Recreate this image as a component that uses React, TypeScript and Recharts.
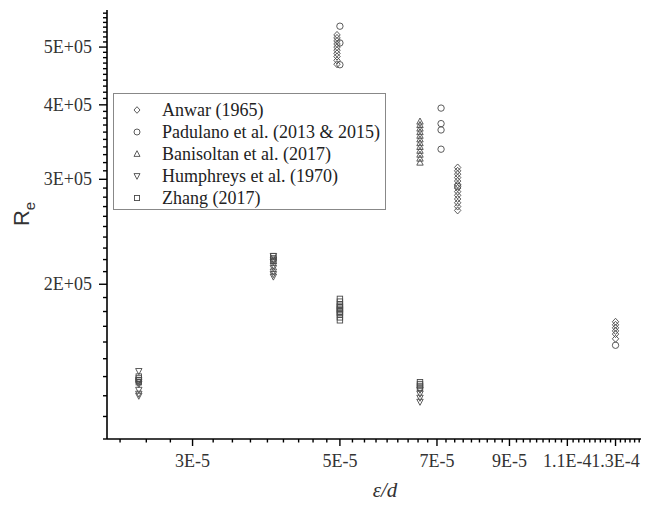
import React from "react";
import { ScatterChart, Scatter, XAxis, YAxis, Label } from "recharts";

// axis ticks
const X_MAJOR = [3e-5, 5e-5, 7e-5, 9e-5, 1.1e-4, 1.3e-4];
const X_LABELS = ["3E-5", "5E-5", "7E-5", "9E-5", "1.1E-4", "1.3E-4"];
const Y_MAJOR = [2e5, 3e5, 4e5, 5e5];
const Y_LABELS = ["2E+05", "3E+05", "4E+05", "5E+05"];
const X_DOMAIN = [2.23e-5, 1.42e-4];
const Y_DOMAIN = [1.1e5, 5.77e5];

// data: [eps/d, Re]
const anwar: [number, number][] = [
  [4.95e-5, 5.24e5], [4.95e-5, 5.18e5], [4.95e-5, 5.12e5], [4.95e-5, 5.06e5],
  [4.95e-5, 5.0e5], [4.95e-5, 4.94e5], [4.95e-5, 4.88e5], [4.95e-5, 4.82e5],
  [4.95e-5, 4.75e5], [4.95e-5, 4.68e5],
  [7.52e-5, 3.14e5], [7.52e-5, 3.1e5], [7.52e-5, 3.06e5], [7.52e-5, 3.02e5],
  [7.52e-5, 2.98e5], [7.52e-5, 2.94e5], [7.52e-5, 2.9e5], [7.52e-5, 2.86e5],
  [7.52e-5, 2.82e5], [7.52e-5, 2.78e5], [7.52e-5, 2.74e5], [7.52e-5, 2.7e5],
  [7.52e-5, 2.66e5],
  [1.3e-4, 1.73e5], [1.3e-4, 1.71e5], [1.3e-4, 1.69e5], [1.3e-4, 1.67e5],
  [1.3e-4, 1.65e5], [1.3e-4, 1.62e5],
];
const padulano: [number, number][] = [
  [5.0e-5, 5.42e5], [5.0e-5, 5.08e5], [5.0e-5, 4.67e5],
  [7.1e-5, 3.95e5], [7.1e-5, 3.72e5], [7.1e-5, 3.63e5], [7.1e-5, 3.37e5],
  [7.52e-5, 2.92e5], [1.3e-4, 1.58e5],
];
const banisoltan: [number, number][] = [
  [6.6e-5, 3.75e5], [6.6e-5, 3.7e5], [6.6e-5, 3.65e5], [6.6e-5, 3.6e5],
  [6.6e-5, 3.55e5], [6.6e-5, 3.5e5], [6.6e-5, 3.45e5], [6.6e-5, 3.4e5],
  [6.6e-5, 3.35e5], [6.6e-5, 3.3e5], [6.6e-5, 3.25e5], [6.6e-5, 3.2e5],
];
const humphreys: [number, number][] = [
  [2.49e-5, 1.43e5], [2.49e-5, 1.38e5], [2.49e-5, 1.37e5], [2.49e-5, 1.36e5],
  [2.49e-5, 1.33e5], [2.49e-5, 1.31e5], [2.49e-5, 1.3e5],
  [3.97e-5, 2.23e5], [3.97e-5, 2.2e5], [3.97e-5, 2.18e5], [3.97e-5, 2.15e5],
  [3.97e-5, 2.13e5], [3.97e-5, 2.1e5], [3.97e-5, 2.08e5], [3.97e-5, 2.06e5],
  [6.6e-5, 1.33e5], [6.6e-5, 1.31e5], [6.6e-5, 1.29e5], [6.6e-5, 1.27e5],
];
const zhang: [number, number][] = [
  [2.49e-5, 1.4e5], [2.49e-5, 1.39e5], [2.49e-5, 1.38e5], [2.49e-5, 1.37e5],
  [3.97e-5, 2.23e5], [3.97e-5, 2.21e5], [3.97e-5, 2.19e5],
  [5.0e-5, 1.89e5], [5.0e-5, 1.87e5], [5.0e-5, 1.85e5], [5.0e-5, 1.84e5],
  [5.0e-5, 1.83e5], [5.0e-5, 1.82e5], [5.0e-5, 1.81e5], [5.0e-5, 1.8e5],
  [5.0e-5, 1.79e5], [5.0e-5, 1.78e5], [5.0e-5, 1.76e5], [5.0e-5, 1.74e5],
  [6.6e-5, 1.37e5], [6.6e-5, 1.36e5], [6.6e-5, 1.35e5], [6.6e-5, 1.34e5],
];

const SERIES = [
  { name: "Anwar (1965)", kind: "diamond", data: anwar },
  { name: "Padulano et al. (2013 & 2015)", kind: "circle", data: padulano },
  { name: "Banisoltan et al. (2017)", kind: "up", data: banisoltan },
  { name: "Humphreys et al. (1970)", kind: "down", data: humphreys },
  { name: "Zhang (2017)", kind: "square", data: zhang },
];

const MARK = "#4a4a4a";
const SERIF = "'Liberation Serif', 'Times New Roman', serif";

// minor ticks: 8 between x majors, every 1E4 on y
const xTicks: number[] = [];
const xStep = (X_MAJOR[1] - X_MAJOR[0]) / 9;
for (let v = X_MAJOR[0] - 3 * xStep; v < X_DOMAIN[1]; v += xStep) {
  if (v > X_DOMAIN[0]) xTicks.push(v);
}
const yTicks: number[] = [];
for (let k = 11; k <= 57; k++) yTicks.push(k * 1e4);

function Marker({ cx, cy, kind, s = 3.2 }: any) {
  if (cx == null || cy == null) return null;
  const p = { fill: "none", stroke: MARK, strokeWidth: 0.9 };
  switch (kind) {
    case "diamond":
      return <path d={`M${cx},${cy - s * 1.1}L${cx + s},${cy}L${cx},${cy + s * 1.1}L${cx - s},${cy}Z`} {...p} />;
    case "circle":
      return <circle cx={cx} cy={cy} r={s} {...p} />;
    case "up":
      return <path d={`M${cx},${cy - s * 1.1}L${cx + s},${cy + s * 0.8}L${cx - s},${cy + s * 0.8}Z`} {...p} />;
    case "down":
      return <path d={`M${cx},${cy + s * 1.1}L${cx + s},${cy - s * 0.8}L${cx - s},${cy - s * 0.8}Z`} {...p} />;
    default:
      return <rect x={cx - s * 0.85} y={cy - s * 0.85} width={s * 1.7} height={s * 1.7} {...p} />;
  }
}

function XTick({ x, y, payload }: any) {
  const i = X_MAJOR.findIndex((v) => Math.abs(v - payload.value) < 1e-9);
  return (
    <g>
      <line x1={x} x2={x} y1={y} y2={y + (i >= 0 ? 7 : 3.5)} stroke="#000" strokeWidth={1.4} />
      {i >= 0 && (
        <text x={x} y={y + 28} textAnchor="middle" fontFamily={SERIF} fontSize={18} fill="#333">
          {X_LABELS[i]}
        </text>
      )}
    </g>
  );
}

function YTick({ x, y, payload }: any) {
  const i = Y_MAJOR.findIndex((v) => Math.abs(v - payload.value) < 1);
  return (
    <g>
      <line x1={x} x2={x - (i >= 0 ? 8 : 4)} y1={y} y2={y} stroke="#000" strokeWidth={1.4} />
      {i >= 0 && (
        <text x={x - 15} y={y + 6} textAnchor="end" fontFamily={SERIF} fontSize={18} fill="#333">
          {Y_LABELS[i]}
        </text>
      )}
    </g>
  );
}

function LegendBox() {
  return (
    <div
      style={{
        position: "absolute",
        left: 113,
        top: 93,
        width: 271,
        height: 115,
        border: "1px solid #888",
        background: "#fff",
      }}
    >
      {SERIES.map((s, i) => (
        <div key={s.name} style={{ position: "absolute", left: 0, top: 5 + i * 22, height: 22, display: "flex", alignItems: "center" }}>
          <svg width={40} height={22}>
            <Marker cx={23} cy={11} kind={s.kind} s={3} />
          </svg>
          <span style={{ fontFamily: SERIF, fontSize: 18, color: "#222", marginLeft: 8, whiteSpace: "nowrap" }}>{s.name}</span>
        </div>
      ))}
    </div>
  );
}

export default function App() {
  return (
    <div style={{ position: "absolute", left: 0, top: 0, width: 652, height: 507, background: "#fff" }}>
      <ScatterChart width={652} height={507} margin={{ top: 10, right: 11, bottom: 0, left: 0 }}>
        <XAxis
          dataKey="x"
          type="number"
          scale="log"
          domain={X_DOMAIN}
          allowDataOverflow
          ticks={xTicks}
          interval={0}
          tick={<XTick />}
          tickLine={false}
          tickSize={0}
          tickMargin={0}
          height={68}
          axisLine={{ stroke: "#000", strokeWidth: 1.6 }}
        >
          <Label
            content={() => (
              <text x={385} y={497} textAnchor="middle" fontFamily={SERIF} fontStyle="italic" fontSize={21} fill="#333">
                ε/d
              </text>
            )}
          />
        </XAxis>
        <XAxis xAxisId="top" orientation="top" type="number" domain={[0, 1]} height={0} tick={false} tickLine={false} axisLine={{ stroke: "#000", strokeWidth: 1.6 }} />
        <YAxis
          dataKey="y"
          type="number"
          scale="log"
          domain={Y_DOMAIN}
          allowDataOverflow
          ticks={yTicks}
          interval={0}
          tick={<YTick />}
          tickLine={false}
          tickSize={0}
          tickMargin={0}
          width={107}
          axisLine={{ stroke: "#000", strokeWidth: 1.6 }}
        >
          <Label
            content={() => (
              <text transform="translate(29,214) rotate(-90)" textAnchor="middle" fontFamily="'Liberation Sans', Arial, sans-serif" fontSize={22} fill="#333">
                R<tspan fontSize={15} dy={6}>e</tspan>
              </text>
            )}
          />
        </YAxis>
        <YAxis yAxisId="right" orientation="right" type="number" domain={[0, 1]} width={0} tick={false} tickLine={false} axisLine={{ stroke: "#000", strokeWidth: 1.6 }} />
        {SERIES.map((s) => (
          <Scatter
            key={s.name}
            name={s.name}
            data={s.data.map(([x, y]) => ({ x, y }))}
            isAnimationActive={false}
            shape={(p: any) => <Marker cx={p.cx} cy={p.cy} kind={s.kind} />}
          />
        ))}
      </ScatterChart>
      <LegendBox />
    </div>
  );
}
